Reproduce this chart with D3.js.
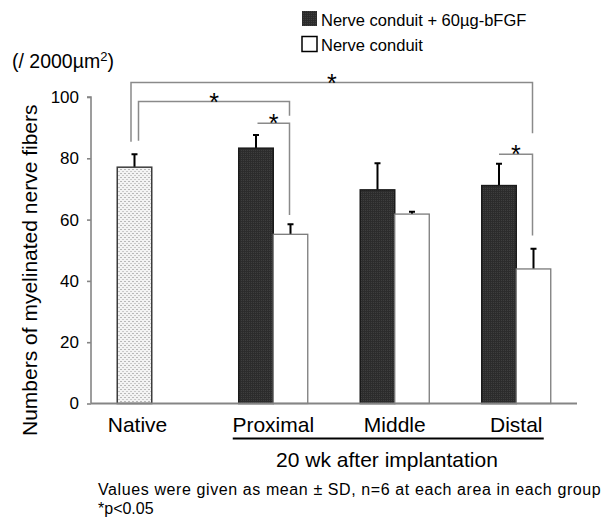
<!DOCTYPE html>
<html>
<head>
<meta charset="utf-8">
<script src="https://cdn.jsdelivr.net/npm/d3@7"></script>
<style>
  body { margin: 0; background: #fff; }
  text { font-family: "Liberation Sans", Arial, sans-serif; fill: #000; }
</style>
</head>
<body>
<div id="chart"></div>
<script>
// data
const groups = ["Native", "Proximal", "Middle", "Distal"];
const nativeMean = [77.1, null, null, null];
const nativeSD   = [4.2, null, null, null];
const bfgfMean   = [null, 83.3, 69.7, 71.1];
const bfgfSD     = [null, 4.3, 8.7, 7.1];
const conduitMean = [null, 55.2, 61.8, 43.9];
const conduitSD   = [null, 3.3, 0.8, 6.6];
const yTicks = [0, 20, 40, 60, 80, 100];
const legendLabels = ["Nerve conduit + 60\u00b5g-bFGF", "Nerve conduit"];

// significance brackets: from bar -> to bar, line level and drop ends (in y units)
const brackets = [
  { from: ["Native", 0], to: ["Distal", 1], level: 104.7, dropFrom: 85.4, dropTo: 88.2 },
  { from: ["Native", 0], to: ["Proximal", 1], level: 98.5, dropFrom: 85.7, dropTo: 93.9 },
  { from: ["Proximal", 0], to: ["Proximal", 1], level: 91.4, dropFrom: null, dropTo: 61.5 },
  { from: ["Distal", 0], to: ["Distal", 1], level: 81.3, dropFrom: null, dropTo: 54.8 }
];

const width = 604, height = 519;
const margin = { top: 97, right: 27, bottom: 115.5, left: 91 };

const svg = d3.select("#chart").append("svg")
  .attr("width", width)
  .attr("height", height);

// patterns for the bar fills
const defs = svg.append("defs");
const dark = defs.append("pattern")
  .attr("id", "darkFill").attr("patternUnits", "userSpaceOnUse")
  .attr("width", 2).attr("height", 2);
dark.append("rect").attr("width", 2).attr("height", 2).attr("fill", "#2c2c2c");
dark.append("rect").attr("x", 1).attr("width", 1).attr("height", 1).attr("fill", "#3e3e3e");

const dots = defs.append("pattern")
  .attr("id", "dotFill").attr("patternUnits", "userSpaceOnUse")
  .attr("width", 4).attr("height", 4);
dots.append("rect").attr("width", 4).attr("height", 4).attr("fill", "#f3f3f3");
dots.append("rect").attr("x", 0).attr("y", 1).attr("width", 2).attr("height", 1).attr("fill", "#b8b8b8");
dots.append("rect").attr("x", 2).attr("y", 3).attr("width", 2).attr("height", 1).attr("fill", "#c8c8c8");

const x = d3.scaleBand()
  .domain(groups)
  .range([margin.left, width - margin.right])
  .paddingInner(0.432)
  .paddingOuter(0.216);

const xSlot = d3.scaleBand()
  .domain([0, 1])
  .range([0, x.bandwidth()]);

const y = d3.scaleLinear()
  .domain([0, 100])
  .range([height - margin.bottom, margin.top]);

const barX = (g, s) => x(g) + xSlot(s);
const barMid = (g, s) => barX(g, s) + xSlot.bandwidth() / 2;

// y axis
const yAxis = svg.append("g")
  .attr("transform", `translate(${margin.left},0)`)
  .call(d3.axisLeft(y).tickValues(yTicks).tickSize(4).tickPadding(8));
yAxis.select(".domain").attr("stroke", "#858585").attr("stroke-width", 1.6)
  .attr("d", `M-4,${y(100)}H0V${y(0)}`);
yAxis.selectAll(".tick line").attr("stroke", "#858585").attr("stroke-width", 1.6);
yAxis.selectAll(".tick text")
  .style("font-family", "'Liberation Sans', Arial, sans-serif")
  .style("font-size", "17px")
  .attr("fill", "#000");

// build bar records
const bars = [];
groups.forEach((g, i) => {
  if (nativeMean[i] != null) bars.push({ g, slot: 0, v: nativeMean[i], sd: nativeSD[i], kind: "native" });
  if (bfgfMean[i] != null) bars.push({ g, slot: 0, v: bfgfMean[i], sd: bfgfSD[i], kind: "bfgf" });
  if (conduitMean[i] != null) bars.push({ g, slot: 1, v: conduitMean[i], sd: conduitSD[i], kind: "conduit" });
});

const fillOf = { native: "url(#dotFill)", bfgf: "url(#darkFill)", conduit: "#fff" };
const strokeOf = { native: "#3c3c3c", bfgf: "#1a1a1a", conduit: "#7a7a7a" };

// error bars (upper only) drawn first so the bar tops cover them
svg.selectAll(".err")
  .data(bars)
  .join("path")
  .attr("class", "err")
  .attr("fill", "none")
  .attr("stroke", "#000")
  .attr("stroke-width", 2)
  .attr("d", d => {
    const cx = barMid(d.g, d.slot);
    return `M${cx},${y(d.v)}V${y(d.v + d.sd)}M${cx - 3},${y(d.v + d.sd)}H${cx + 3}`;
  });

svg.selectAll(".bar")
  .data(bars)
  .join("rect")
  .attr("class", "bar")
  .attr("x", d => barX(d.g, d.slot))
  .attr("y", d => y(d.v))
  .attr("width", xSlot.bandwidth())
  .attr("height", d => y(0) - y(d.v))
  .attr("fill", d => fillOf[d.kind])
  .attr("stroke", d => strokeOf[d.kind])
  .attr("stroke-width", d => d.kind === "conduit" ? 1.3 : 1.5);

// baseline
svg.append("line")
  .attr("x1", margin.left).attr("x2", width - margin.right)
  .attr("y1", y(0)).attr("y2", y(0))
  .attr("stroke", "#858585").attr("stroke-width", 1.8);

// significance brackets
const nudge = [-3.5, 4, 1.5, 0];
brackets.forEach((b, i) => {
  const x1 = barMid(b.from[0], b.from[1]) + nudge[i];
  const x2 = barMid(b.to[0], b.to[1]) - 1;
  let d = b.dropFrom != null ? `M${x1},${y(b.dropFrom)}V${y(b.level)}` : `M${x1},${y(b.level)}`;
  d += `H${x2}V${y(b.dropTo)}`;
  svg.append("path")
    .attr("d", d)
    .attr("fill", "none")
    .attr("stroke", "#8a8a8a")
    .attr("stroke-width", 1.5);
  svg.append("text")
    .attr("x", (x1 + x2) / 2)
    .attr("y", y(b.level) + 9)
    .attr("text-anchor", "middle")
    .style("font-size", "25px")
    .text("*");
});

// category labels
svg.selectAll(".xlab")
  .data(groups)
  .join("text")
  .attr("class", "xlab")
  .attr("x", (g, i) => i === 0 ? barMid(g, 0) + 3 : x(g) + x.bandwidth() / 2)
  .attr("y", y(0) + 28)
  .attr("text-anchor", "middle")
  .style("font-size", "21px")
  .text(d => d);

// underline for the implanted groups
svg.append("line")
  .attr("x1", barX("Proximal", 0) - 6)
  .attr("x2", barX("Distal", 1) + xSlot.bandwidth() - 7)
  .attr("y1", y(0) + 35).attr("y2", y(0) + 35)
  .attr("stroke", "#000").attr("stroke-width", 2);

svg.append("text")
  .attr("x", 387).attr("y", y(0) + 63)
  .attr("text-anchor", "middle")
  .style("font-size", "21px")
  .text("20 wk after implantation");

svg.append("text")
  .attr("x", 98).attr("y", 495)
  .style("font-size", "16px")
  .style("letter-spacing", "0.6px")
  .text("Values were given as mean \u00b1 SD, n=6 at each area in each group");

svg.append("text")
  .attr("x", 98).attr("y", 514)
  .style("font-size", "16px")
  .text("*p<0.05");

// y axis title and unit
svg.append("text")
  .attr("transform", `translate(37,${(y(0) + y(100)) / 2 + 20}) rotate(-90)`)
  .attr("text-anchor", "middle")
  .style("font-size", "21px")
  .text("Numbers of myelinated nerve fibers");

const unit = svg.append("text")
  .attr("x", 12).attr("y", 68)
  .style("font-size", "19.5px");
unit.append("tspan").text("(/ 2000\u00b5m");
unit.append("tspan").attr("dy", -7).style("font-size", "13px").text("2");
unit.append("tspan").attr("dy", 7).text(")");

// legend
const legend = svg.append("g").attr("transform", "translate(302,11)");
legendLabels.forEach((lab, i) => {
  const row = legend.append("g").attr("transform", `translate(0,${i * 25.5})`);
  row.append("rect")
    .attr("width", 15).attr("height", 15)
    .attr("fill", i === 0 ? "url(#darkFill)" : "#fff")
    .attr("stroke", i === 0 ? "none" : "#000")
    .attr("stroke-width", 1.5);
  row.append("text")
    .attr("x", 19).attr("y", 14.5)
    .style("font-size", "16.5px")
    .text(lab);
});
</script>
</body>
</html>
